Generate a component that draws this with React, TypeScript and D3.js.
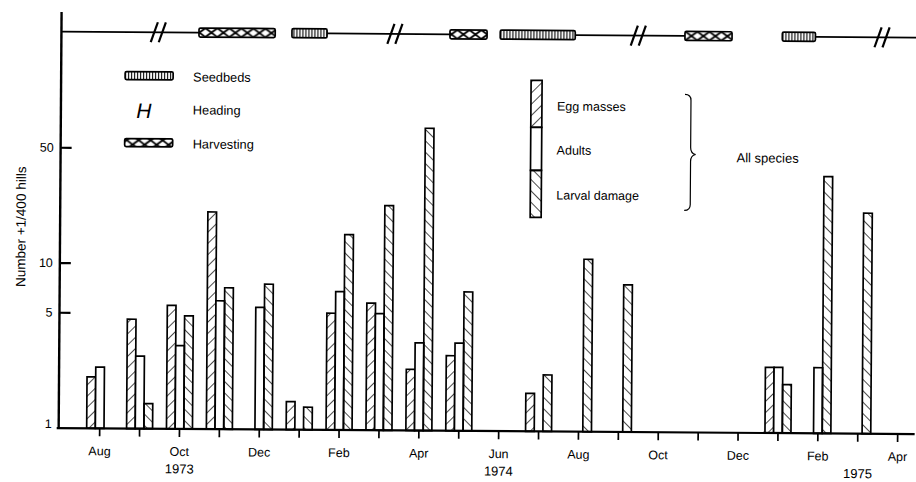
import React from "react";
import * as d3 from "d3";

const WIDTH = 916;
const HEIGHT = 482;
const FONT = "'Liberation Sans', Arial, Helvetica, sans-serif";

// months counted from Aug 1973 (0) to Apr 1975 (20)
const monthTicks = d3.range(0, 21);
const monthLabels = ["Aug", "Oct", "Dec", "Feb", "Apr", "Jun", "Aug", "Oct", "Dec", "Feb", "Apr"];
const years = ["1973", "1974", "1975"];
const yearMonth = [2, 10, 19];

const yTicks = [1, 5, 10, 50];

// sampling month and counts (number + 1 per 400 hills), null = not plotted
const sampleMonth = [0, 1, 2, 3, 4, 5, 6, 7, 8, 9, 11, 12, 13, 17, 18, 19];
const eggMasses = [2.05, 4.6, 5.6, 20.7, null, 1.48, 5.1, 5.9, 2.35, 2.85, 1.7, null, null, 2.5, null, null];
const adults = [2.35, 2.75, 3.2, 6.0, 5.5, null, 6.9, 5.1, 3.4, 3.4, null, null, null, 2.5, 2.5, null];
const larvalDamage = [null, 1.42, 4.85, 7.2, 7.6, 1.37, 15.3, 23, 68, 6.95, 2.2, 11.1, 7.8, 1.97, 36, 21.7];

// crop calendar (month index)
const seedbedFrom = [4.75, 9.97, 17.04];
const seedbedTo = [5.63, 11.85, 17.87];
const headingAt = [1.4, 7.33, 13.43, 19.54];
const harvestFrom = [2.42, 8.71, 14.6];
const harvestTo = [4.33, 9.64, 15.78];

const series = [
  { key: "egg", values: eggMasses, fill: "url(#hatchUp)" },
  { key: "adults", values: adults, fill: "#fff" },
  { key: "larval", values: larvalDamage, fill: "url(#hatchDown)" },
];

const x = d3.scaleLinear().domain([0, 20]).range([101, 899]);
const y = d3.scaleLog().domain([1, 10]).range([431, 266]);
const slot = d3.scaleBand().domain(["egg", "adults", "larval"]).range([-13, 13]);

const axisLeft = 60;
const baseY = y(1);
const lineY = 34.5;
const INK = "#000";

const HeadingMark = ({ cx, cy }: { cx: number; cy: number }) => (
  <g stroke={INK} strokeWidth={2.2}>
    {[-4, 4].map((o) => (
      <line key={o} x1={cx + o - 3.5} y1={cy + 10} x2={cx + o + 3.5} y2={cy - 10} />
    ))}
  </g>
);

const Box = ({ x0, x1, cy, fill }: { x0: number; x1: number; cy: number; fill: string }) => (
  <rect x={x0} y={cy - 4.5} width={x1 - x0} height={9} rx={1.5} fill={fill} stroke={INK} strokeWidth={1.7} />
);

export default function App() {
  const lineStarts = [axisLeft, ...seedbedTo.map((m) => x(m))];
  const lineEnds = [...harvestFrom.map((m) => x(m)), WIDTH];

  return (
    <svg
      width={WIDTH}
      height={HEIGHT}
      style={{ position: "absolute", left: 0, top: 0, background: "#fff" }}
      fontFamily={FONT}
    >
      <defs>
        <pattern id="hatchUp" width={8} height={8} patternUnits="userSpaceOnUse" patternTransform="rotate(45)">
          <line x1={0} y1={0} x2={0} y2={8} stroke={INK} strokeWidth={1.4} />
        </pattern>
        <pattern id="hatchDown" width={8} height={8} patternUnits="userSpaceOnUse" patternTransform="rotate(-45)">
          <line x1={0} y1={0} x2={0} y2={8} stroke={INK} strokeWidth={1.4} />
        </pattern>
        <pattern id="seedbed" width={3} height={9} patternUnits="userSpaceOnUse">
          <rect width={3} height={9} fill="#fff" />
          <line x1={1.5} y1={0} x2={1.5} y2={9} stroke={INK} strokeWidth={1.1} />
        </pattern>
        <pattern id="harvest" width={12} height={9} patternUnits="userSpaceOnUse" y={-4.5 + lineY}>
          <rect width={12} height={9} fill="#fff" />
          <line x1={0} y1={0} x2={12} y2={9} stroke={INK} strokeWidth={1.8} />
          <line x1={0} y1={9} x2={12} y2={0} stroke={INK} strokeWidth={1.8} />
        </pattern>
      </defs>

      <g transform="rotate(0.4 480 240)">
        {/* crop calendar line */}
        {lineStarts.map((s, i) => (
          <line key={i} x1={s} x2={lineEnds[i]} y1={lineY} y2={lineY} stroke={INK} strokeWidth={1.8} />
        ))}
        {seedbedFrom.map((m, i) => (
          <Box key={"s" + i} x0={x(m)} x1={x(seedbedTo[i])} cy={lineY} fill="url(#seedbed)" />
        ))}
        {harvestFrom.map((m, i) => (
          <Box key={"h" + i} x0={x(m)} x1={x(harvestTo[i])} cy={lineY} fill="url(#harvest)" />
        ))}
        {headingAt.map((m, i) => (
          <HeadingMark key={i} cx={x(m)} cy={lineY} />
        ))}

        {/* bars */}
        {series.map((s) =>
          s.values.map((v, i) =>
            v == null ? null : (
              <rect
                key={s.key + i}
                x={x(sampleMonth[i]) + (slot(s.key) as number)}
                y={y(v)}
                width={slot.bandwidth()}
                height={baseY - y(v)}
                fill={s.fill}
                stroke={INK}
                strokeWidth={1.7}
              />
            )
          )
        )}

        {/* axes */}
        <line x1={axisLeft} x2={axisLeft} y1={15} y2={baseY + 1} stroke={INK} strokeWidth={2.4} />
        <line x1={axisLeft - 2} x2={WIDTH} y1={baseY} y2={baseY} stroke={INK} strokeWidth={2.2} />
        {yTicks.map((t) => (
          <g key={t}>
            {t !== 1 && <line x1={axisLeft} x2={axisLeft + 11} y1={y(t)} y2={y(t)} stroke={INK} strokeWidth={2.2} />}
            <text x={53} y={y(t) - (t === 1 ? 4 : 0)} textAnchor="end" dominantBaseline="central" fontSize={12.5} fill={INK}>
              {t}
            </text>
          </g>
        ))}
        {monthTicks.map((m) => (
          <line key={m} x1={x(m)} x2={x(m)} y1={baseY} y2={baseY + 8} stroke={INK} strokeWidth={1.7} />
        ))}
        {monthLabels.map((l, i) => (
          <text key={i} x={x(i * 2)} y={458} textAnchor="middle" fontSize={12.5} fill={INK}>
            {l}
          </text>
        ))}
        {years.map((yr, i) => (
          <text key={yr} x={x(yearMonth[i])} y={475.5} textAnchor="middle" fontSize={13} fill={INK}>
            {yr}
          </text>
        ))}
        <text
          transform={`translate(21,230) rotate(-90)`}
          textAnchor="middle"
          dominantBaseline="central"
          fontSize={13.5}
          fill={INK}
        >
          Number +1/400 hills
        </text>

        {/* calendar legend */}
        <g fontSize={12.8} fill={INK}>
          <rect x={124} y={74} width={48} height={8} rx={1.5} fill="url(#seedbed)" stroke={INK} strokeWidth={1.7} />
          <text x={192} y={79} dominantBaseline="central">Seedbeds</text>
          <text x={143} y={113} textAnchor="middle" dominantBaseline="central" fontSize={21} fontStyle="italic">
            H
          </text>
          <text x={192} y={112} dominantBaseline="central">Heading</text>
          <rect x={124} y={141} width={48} height={8} rx={1.5} fill="url(#harvest)" stroke={INK} strokeWidth={1.7} />
          <text x={192} y={146} dominantBaseline="central">Harvesting</text>
        </g>

        {/* series legend */}
        <g fontSize={12.5} fill={INK}>
          <rect x={530} y={80} width={11} height={47} fill="url(#hatchUp)" stroke={INK} strokeWidth={1.7} />
          <rect x={530} y={127} width={11} height={43} fill="#fff" stroke={INK} strokeWidth={1.7} />
          <rect x={530} y={170} width={11} height={47} fill="url(#hatchDown)" stroke={INK} strokeWidth={1.7} />
          <text x={556} y={106} dominantBaseline="central">Egg masses</text>
          <text x={556} y={150} dominantBaseline="central">Adults</text>
          <text x={556} y={195} dominantBaseline="central">Larval damage</text>
          <path
            d="M684,93 Q690,93 690,99 L690,146 Q690,152 695,153 Q690,154 690,160 L690,203 Q690,209 684,209"
            fill="none"
            stroke={INK}
            strokeWidth={1.2}
          />
          <text x={736} y={156} dominantBaseline="central" fontSize={13}>All species</text>
        </g>
      </g>
    </svg>
  );
}
